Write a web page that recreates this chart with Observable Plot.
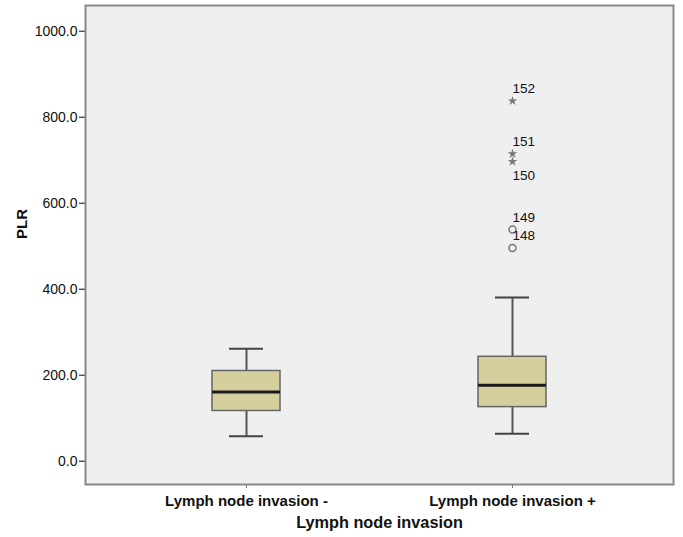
<!DOCTYPE html>
<html>
<head>
<meta charset="utf-8">
<script src="https://cdn.jsdelivr.net/npm/d3@7"></script>
<script src="https://cdn.jsdelivr.net/npm/@observablehq/plot@0.6"></script>
<style>
  html, body { margin: 0; padding: 0; background: #fff; }
  #chart { width: 683px; height: 537px; }
</style>
</head>
<body>
<div id="chart"></div>
<script>
// Data
const groups = ["Lymph node invasion -", "Lymph node invasion +"];
const whiskerLow = [58, 64];
const q1 = [117, 126];
const median = [161, 177];
const q3 = [210, 243];
const whiskerHigh = [262, 381];

const outlierGroup = ["Lymph node invasion +", "Lymph node invasion +", "Lymph node invasion +", "Lymph node invasion +", "Lymph node invasion +"];
const outlierId = [152, 151, 150, 149, 148];
const outlierValue = [838, 715, 697, 539, 496];
const outlierKind = ["extreme", "extreme", "extreme", "outlier", "outlier"];
const labelBelow = [false, false, true, false, false];

const yTicks = [0, 200, 400, 600, 800, 1000];

const boxes = groups.map((g, i) => ({
  group: g, lo: whiskerLow[i], q1: q1[i], med: median[i], q3: q3[i], hi: whiskerHigh[i]
}));
const outliers = outlierId.map((id, i) => ({
  group: outlierGroup[i], id, value: outlierValue[i], kind: outlierKind[i], below: labelBelow[i]
}));

const font = "'Liberation Sans', Arial, Helvetica, sans-serif";

const chart = Plot.plot({
  width: 683,
  height: 537,
  marginLeft: 85,
  marginRight: 10,
  marginTop: 5,
  marginBottom: 53,
  style: { fontFamily: font, fontSize: "13px", background: "#ffffff", color: "#111" },
  x: {
    type: "band",
    domain: groups,
    paddingInner: 0.744,
    paddingOuter: 0.477,
    align: 0.5,
    label: null
  },
  y: {
    domain: [-54, 1060],
    label: null
  },
  marks: [
    Plot.frame({ fill: "#efefef", stroke: null }),
    Plot.axisY({
      ticks: yTicks,
      tickFormat: d3.format(".1f"),
      tickSize: 6,
      tickPadding: 2,
      stroke: "#555",
      strokeWidth: 1.5,
      fontSize: 14,
      label: null
    }),
    Plot.text(["PLR"], {
      frameAnchor: "left",
      dx: -63,
      dy: -6,
      rotate: -90,
      fontWeight: "bold",
      fontSize: 15,
      fill: "#111"
    }),
    Plot.axisX({
      tickSize: 4,
      tickPadding: 7,
      stroke: "#777",
      fontWeight: "bold",
      fontSize: 15,
      label: null
    }),
    Plot.text(["Lymph node invasion"], {
      frameAnchor: "bottom",
      dy: 43,
      fontWeight: "bold",
      fontSize: 16.3,
      fill: "#111"
    }),
    // whiskers
    Plot.ruleX(boxes, { x: "group", y1: "lo", y2: "q1", stroke: "#555", strokeWidth: 2 }),
    Plot.ruleX(boxes, { x: "group", y1: "q3", y2: "hi", stroke: "#555", strokeWidth: 2 }),
    Plot.tickY(boxes, { x: "group", y: "lo", stroke: "#444", strokeWidth: 2, insetLeft: 17, insetRight: 17 }),
    Plot.tickY(boxes, { x: "group", y: "hi", stroke: "#444", strokeWidth: 2, insetLeft: 17, insetRight: 17 }),
    // box
    Plot.barY(boxes, { x: "group", y1: "q1", y2: "q3", fill: "#d4cf9d", stroke: "#666", strokeWidth: 1.5 }),
    Plot.tickY(boxes, { x: "group", y: "med", stroke: "#1a1a1a", strokeWidth: 3 }),
    // outliers
    Plot.dot(outliers.filter(d => d.kind === "outlier"), { x: "group", y: "value", r: 3.5, stroke: "#777", strokeWidth: 1.5, fill: "none" }),
    Plot.dot(outliers.filter(d => d.kind === "extreme"), { x: "group", y: "value", symbol: "star", r: 3, fill: "#777", stroke: "none" }),
    Plot.text(outliers.filter(d => !d.below), { x: "group", y: "value", text: "id", textAnchor: "start", dx: 0, dy: -12, fontSize: 13.5, fill: "#111" }),
    Plot.text(outliers.filter(d => d.below), { x: "group", y: "value", text: "id", textAnchor: "start", dx: 0, dy: 14, fontSize: 13.5, fill: "#111" }),
    Plot.frame({ stroke: "#888", strokeWidth: 2 })
  ]
});

document.getElementById("chart").appendChild(chart);
</script>
</body>
</html>
